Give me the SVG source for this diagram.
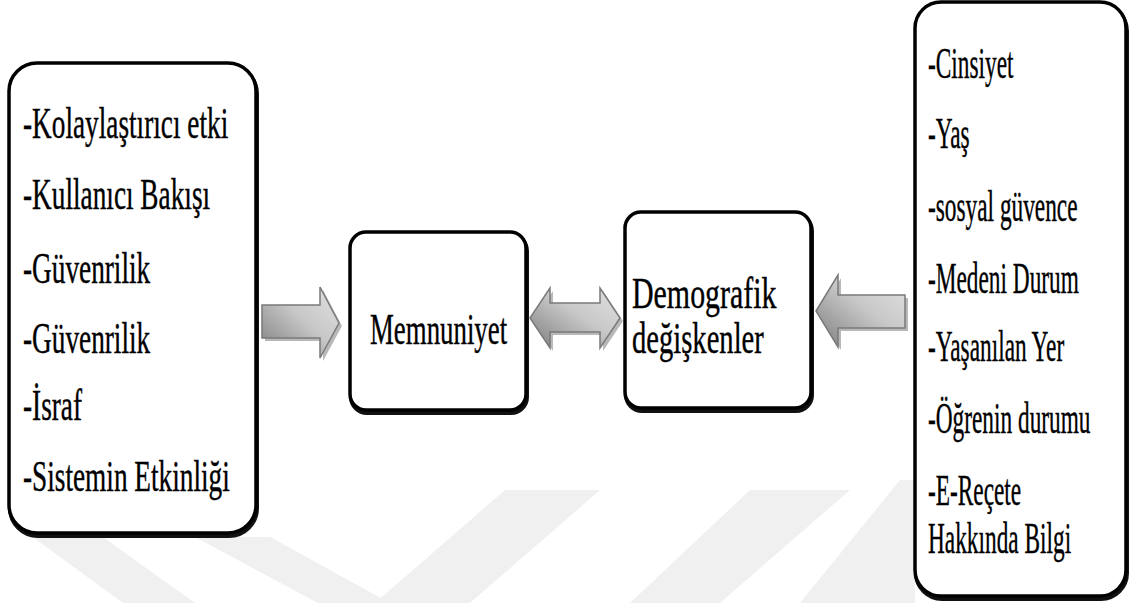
<svg xmlns="http://www.w3.org/2000/svg" width="1132" height="603" viewBox="0 0 1132 603">
<style>
.box{fill:#ffffff;stroke:#000000;stroke-width:3.5}
.sh{fill:none;stroke:#111111;stroke-width:4}
.t{font-family:"Liberation Serif","DejaVu Serif",serif;font-size:44px;fill:#000000;stroke:#000000;stroke-width:0.4}
.arr{fill:url(#g);stroke:#7a7a7a;stroke-width:1.5;stroke-linejoin:miter}
.ash{fill:#b8b8b8}
.wm{fill:#f0f0f0}
</style>
<defs>
<linearGradient id="g" x1="0" y1="1" x2="1" y2="0">
<stop offset="0" stop-color="#7c7c7c"/>
<stop offset="0.55" stop-color="#c8c8c8"/>
<stop offset="1" stop-color="#e2e2e2"/>
</linearGradient>
</defs>
<rect width="1132" height="603" fill="#ffffff"/>
<g id="watermark">
<polygon class="wm" points="30,535 100,535 195,603 123,603"/>
<polygon class="wm" points="195,537 270,537 390,603 318,603"/>
<polygon class="wm" points="505,490 600,490 470,603 375,603"/>
<polygon class="wm" points="750,490 850,490 720,603 630,603"/>
<polygon class="wm" points="900,480 915,480 915,603 800,603"/>
</g>
<g id="connectors">
<polygon class="ash" points="265,308 323,308 323,290 342,326 323,361 323,341 265,341"/>
<polygon class="arr" points="262,305 320,305 320,287 339,323 320,358 320,338 262,338"/>
<polygon class="ash" points="533,321 553,291 553,306 603,306 603,291 623,321 603,351 603,335 553,335 553,351"/>
<polygon class="arr" points="530,318 550,288 550,303 600,303 600,288 620,318 600,348 600,332 550,332 550,348"/>
<polygon class="ash" points="819,314 841,278 841,298 908,298 908,331 841,331 841,350"/>
<polygon class="arr" points="816,311 838,275 838,295 905,295 905,328 838,328 838,347"/>
</g>
<g id="factors">
<rect class="sh" x="10" y="66" width="247" height="470" rx="28"/>
<rect class="box" x="9" y="63" width="247" height="470" rx="28"/>
<text class="t" font-family="Liberation Serif, serif" transform="translate(23,138) scale(0.62,1)">-Kolaylaştırıcı etki</text>
<text class="t" font-family="Liberation Serif, serif" transform="translate(23,209) scale(0.62,1)">-Kullanıcı Bakışı</text>
<text class="t" font-family="Liberation Serif, serif" transform="translate(23,283) scale(0.62,1)">-Güvenrilik</text>
<text class="t" font-family="Liberation Serif, serif" transform="translate(23,353) scale(0.62,1)">-Güvenrilik</text>
<text class="t" font-family="Liberation Serif, serif" transform="translate(23,420) scale(0.62,1)">-İsraf</text>
<text class="t" font-family="Liberation Serif, serif" transform="translate(23,491) scale(0.62,1)">-Sistemin Etkinliği</text>
</g>
<g id="memnuniyet">
<rect class="sh" x="351" y="235" width="176" height="178" rx="16"/>
<rect class="box" x="350" y="232" width="176" height="178" rx="16"/>
<text class="t" font-family="Liberation Serif, serif" transform="translate(370,344) scale(0.61,1)">Memnuniyet</text>
</g>
<g id="demografik">
<rect class="sh" x="626" y="215" width="186" height="196" rx="16"/>
<rect class="box" x="625" y="212" width="186" height="196" rx="16"/>
<text class="t" font-family="Liberation Serif, serif" transform="translate(632,308) scale(0.68,1)">Demografik</text>
<text class="t" font-family="Liberation Serif, serif" transform="translate(632,353) scale(0.65,1)">değişkenler</text>
</g>
<g id="variables">
<rect class="sh" x="916" y="5" width="211" height="594" rx="26"/>
<rect class="box" x="915" y="2" width="211" height="594" rx="26"/>
<text class="t" font-family="Liberation Serif, serif" transform="translate(928,78) scale(0.53,1)">-Cinsiyet</text>
<text class="t" font-family="Liberation Serif, serif" transform="translate(928,148) scale(0.53,1)">-Yaş</text>
<text class="t" font-family="Liberation Serif, serif" transform="translate(928,221) scale(0.53,1)">-sosyal güvence</text>
<text class="t" font-family="Liberation Serif, serif" transform="translate(928,293) scale(0.53,1)">-Medeni Durum</text>
<text class="t" font-family="Liberation Serif, serif" transform="translate(928,361) scale(0.53,1)">-Yaşanılan Yer</text>
<text class="t" font-family="Liberation Serif, serif" transform="translate(928,433) scale(0.53,1)">-Öğrenin durumu</text>
<text class="t" font-family="Liberation Serif, serif" transform="translate(928,505) scale(0.53,1)">-E-Reçete</text>
<text class="t" font-family="Liberation Serif, serif" transform="translate(928,553) scale(0.53,1)">Hakkında Bilgi</text>
</g>
</svg>
